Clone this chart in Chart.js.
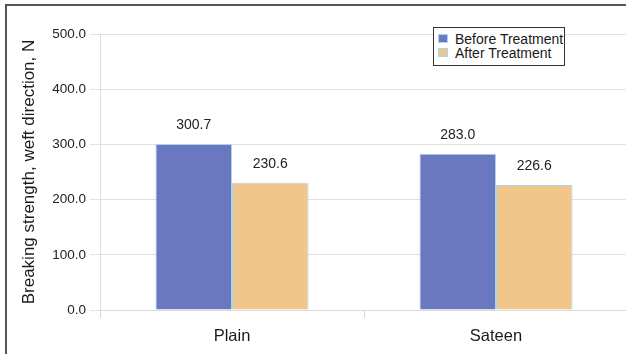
<!DOCTYPE html>
<html>
<head>
<meta charset="utf-8">
<script src="https://cdn.jsdelivr.net/npm/chart.js@4/dist/chart.umd.min.js"></script>
<style>
  html, body { margin: 0; padding: 0; background: #fff; overflow: hidden; }
  #wrap { position: relative; width: 626px; height: 354px; overflow: hidden; }
  #frame { position: absolute; left: 5px; top: 4px; width: 700px; height: 400px;
           border-left: 2px solid #555; border-top: 2px solid #555; pointer-events: none; }
  #box { position: absolute; left: 0; top: 0; width: 632px; height: 354px; }
  #legend { position: absolute; left: 433px; top: 27px; width: 130px; height: 37px;
            border: 1.5px solid #333; background: #fff; box-sizing: content-box;
            font-family: "Liberation Sans", Arial, sans-serif; font-size: 14px; color: #1a1a1a; }
  #legend .item { position: absolute; left: 3px; height: 14px; line-height: 14px; white-space: nowrap; }
  #legend .sw { position: absolute; left: 1px; top: 2px; width: 10px; height: 9px; box-sizing: border-box; border: 1px solid #a9d6ef; }
  #legend .tx { position: absolute; left: 18px; top: 0; }
</style>
</head>
<body>
<div id="wrap">
  <div id="box"><canvas id="c" width="632" height="354"></canvas></div>
  <div id="frame"></div>
  <div id="legend"></div>
</div>
<script>
// Fabric weave types and the two measurement series
const categories = ["Plain", "Sateen"];
const seriesNames = ["Before Treatment", "After Treatment"];
const beforeTreatment = [300.7, 283.0];
const afterTreatment = [230.6, 226.6];
const yTicks = [0, 100, 200, 300, 400, 500];

const fillColors = ["#6a79bf", "#f0c68b"];
const edgeColor = "#a9d6ef";
const fontFamily = "'Liberation Sans', Arial, sans-serif";

// Value labels above each bar
const valueLabels = {
  id: "valueLabels",
  afterDatasetsDraw(chart) {
    const ctx = chart.ctx;
    ctx.save();
    ctx.font = "14px " + fontFamily;
    ctx.fillStyle = "#222";
    ctx.textAlign = "center";
    ctx.textBaseline = "middle";
    chart.data.datasets.forEach((ds, i) => {
      chart.getDatasetMeta(i).data.forEach((bar, j) => {
        ctx.fillText(ds.data[j].toFixed(1), bar.x, bar.y - 19);
      });
    });
    ctx.restore();
  }
};

const chart = new Chart(document.getElementById("c"), {
  type: "bar",
  data: {
    labels: categories,
    datasets: [
      { label: seriesNames[0], data: beforeTreatment, backgroundColor: fillColors[0],
        borderColor: edgeColor, borderWidth: 1 },
      { label: seriesNames[1], data: afterTreatment, backgroundColor: fillColors[1],
        borderColor: edgeColor, borderWidth: 1 }
    ]
  },
  options: {
    responsive: false,
    animation: false,
    layout: { padding: { top: 34, right: 4, bottom: 0, left: 0 } },
    datasets: { bar: { categoryPercentage: 0.58, barPercentage: 1.0 } },
    plugins: { legend: { display: false }, tooltip: { enabled: false } },
    scales: {
      x: {
        grid: { display: true, drawOnChartArea: false, offset: true, color: "#d6d6d6", tickLength: 8 },
        border: { color: "#dcd8d8" },
        ticks: { color: "#1a1a1a", padding: 9, font: { family: fontFamily, size: 16.5 } },
        afterFit(scale) { scale.height = 44; }
      },
      y: {
        min: yTicks[0],
        max: yTicks[yTicks.length - 1],
        afterBuildTicks(scale) { scale.ticks = yTicks.map(v => ({ value: v })); },
        grid: { color: "#e6dfdf", tickLength: 10 },
        border: { color: "#e3dede" },
        ticks: { color: "#222", padding: 4, font: { family: fontFamily, size: 13.5 },
                 callback: v => Number(v).toFixed(1) },
        title: { display: true, text: "Breaking strength, weft direction, N", color: "#1a1a1a",
                 font: { family: fontFamily, size: 17 }, padding: { top: 19, bottom: 0 } },
        afterFit(scale) { scale.width = 100; }
      }
    }
  },
  plugins: [valueLabels]
});

// Legend built from the same series names and colours
const legend = document.getElementById("legend");
seriesNames.forEach((name, i) => {
  const item = document.createElement("div");
  item.className = "item";
  item.style.top = (4 + i * 14) + "px";
  const sw = document.createElement("span");
  sw.className = "sw";
  sw.style.background = fillColors[i];
  const tx = document.createElement("span");
  tx.className = "tx";
  tx.textContent = name;
  item.appendChild(sw);
  item.appendChild(tx);
  legend.appendChild(item);
});
</script>
</body>
</html>
